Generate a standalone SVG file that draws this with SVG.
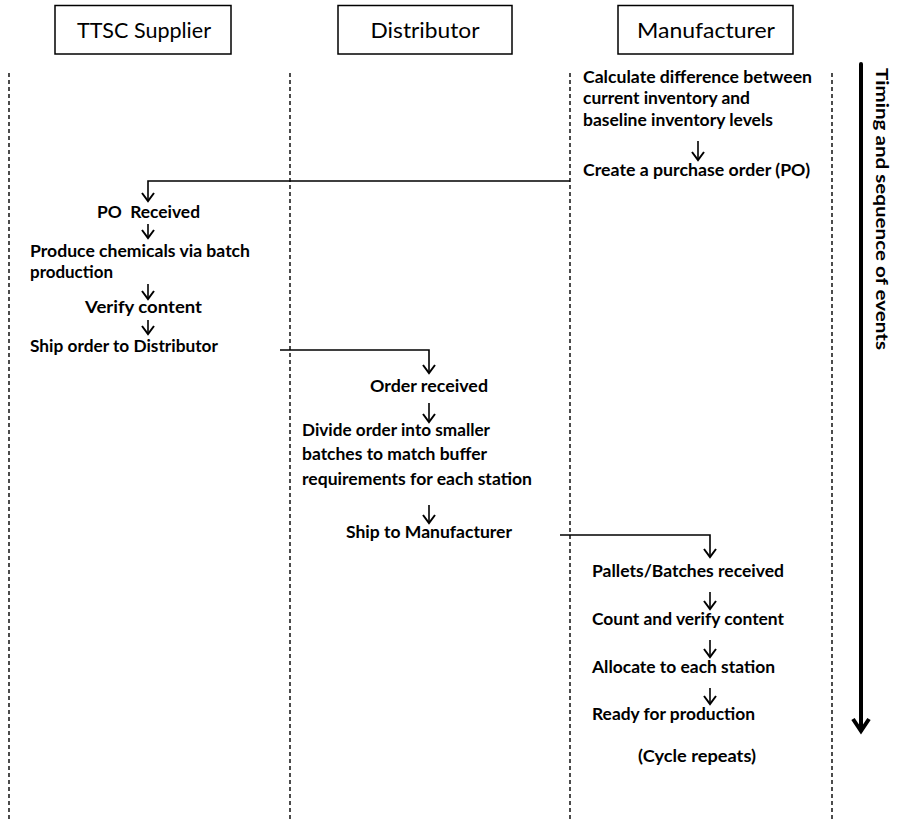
<svg xmlns="http://www.w3.org/2000/svg" width="899" height="820" viewBox="0 0 899 820">
  <style>
    .hdr { fill: #fff; stroke: #000; stroke-width: 1.5; }
    .hdrtxt { font-family: Lato, "Open Sans", "Liberation Sans", sans-serif; font-size: 22px; fill: #000; text-anchor: middle; }
    .txt { font-family: Lato, "Open Sans", "Liberation Sans", sans-serif; font-size: 17px; font-weight: bold; fill: #000; }
    .lane { stroke: #000; stroke-width: 1.4; stroke-dasharray: 4 3; fill: none; }
    .conn { stroke: #000; stroke-width: 1.6; fill: none; marker-end: url(#vhead); }
  </style>
  <defs>
    <marker id="vhead" viewBox="-9 -7 11 14" markerWidth="11" markerHeight="14" markerUnits="userSpaceOnUse" refX="0" refY="0" orient="auto">
      <path d="M-8,-6 L0,0 L-8,6" fill="none" stroke="#000" stroke-width="2"/>
    </marker>
  </defs>

  <rect width="899" height="820" fill="#fff"/>

  <!-- swimlane boundaries -->
  <g id="lanes">
    <line class="lane" x1="9" y1="73" x2="9" y2="820"/>
    <line class="lane" x1="290" y1="73" x2="290" y2="820"/>
    <line class="lane" x1="570" y1="73" x2="570" y2="820"/>
    <line class="lane" x1="832" y1="73" x2="832" y2="820"/>
  </g>

  <!-- lane headers -->
  <g id="hdr-supplier">
    <rect class="hdr" x="55" y="5.5" width="176" height="48.5"/>
    <text class="hdrtxt" x="144" y="38" textLength="134" lengthAdjust="spacingAndGlyphs">TTSC Supplier</text>
  </g>
  <g id="hdr-distributor">
    <rect class="hdr" x="338" y="5.5" width="174" height="48.5"/>
    <text class="hdrtxt" x="425" y="38" textLength="109" lengthAdjust="spacingAndGlyphs">Distributor</text>
  </g>
  <g id="hdr-manufacturer">
    <rect class="hdr" x="618" y="5.5" width="175" height="48.5"/>
    <text class="hdrtxt" x="706" y="38" textLength="138" lengthAdjust="spacingAndGlyphs">Manufacturer</text>
  </g>

  <!-- Manufacturer: ordering -->
  <g id="m-calc">
    <text class="txt" x="583" y="83" textLength="229" lengthAdjust="spacingAndGlyphs">Calculate difference between</text>
    <text class="txt" x="583" y="104" textLength="167" lengthAdjust="spacingAndGlyphs">current inventory and</text>
    <text class="txt" x="583" y="126" textLength="190" lengthAdjust="spacingAndGlyphs">baseline inventory levels</text>
  </g>
  <g id="m-po">
    <text class="txt" x="583" y="176" textLength="227" lengthAdjust="spacingAndGlyphs">Create a purchase order (PO)</text>
  </g>

  <!-- Supplier steps -->
  <g id="s-received">
    <text class="txt" x="97" y="218" textLength="103" lengthAdjust="spacingAndGlyphs">PO&#160; Received</text>
  </g>
  <g id="s-produce">
    <text class="txt" x="30" y="257" textLength="220" lengthAdjust="spacingAndGlyphs">Produce chemicals via batch</text>
    <text class="txt" x="30" y="278" textLength="83" lengthAdjust="spacingAndGlyphs">production</text>
  </g>
  <g id="s-verify">
    <text class="txt" x="85" y="313" textLength="117" lengthAdjust="spacingAndGlyphs">Verify content</text>
  </g>
  <g id="s-ship">
    <text class="txt" x="30" y="352" textLength="188" lengthAdjust="spacingAndGlyphs">Ship order to Distributor</text>
  </g>

  <!-- Distributor steps -->
  <g id="d-received">
    <text class="txt" x="370" y="392" textLength="118" lengthAdjust="spacingAndGlyphs">Order received</text>
  </g>
  <g id="d-divide">
    <text class="txt" x="302" y="436" textLength="188" lengthAdjust="spacingAndGlyphs">Divide order into smaller</text>
    <text class="txt" x="302" y="460" textLength="185" lengthAdjust="spacingAndGlyphs">batches to match buffer</text>
    <text class="txt" x="302" y="485" textLength="230" lengthAdjust="spacingAndGlyphs">requirements for each station</text>
  </g>
  <g id="d-ship">
    <text class="txt" x="346" y="538" textLength="166" lengthAdjust="spacingAndGlyphs">Ship to Manufacturer</text>
  </g>

  <!-- Manufacturer: receiving -->
  <g id="m-received">
    <text class="txt" x="592" y="577" textLength="192" lengthAdjust="spacingAndGlyphs">Pallets/Batches received</text>
  </g>
  <g id="m-count">
    <text class="txt" x="592" y="625" textLength="192" lengthAdjust="spacingAndGlyphs">Count and verify content</text>
  </g>
  <g id="m-allocate">
    <text class="txt" x="592" y="673" textLength="183" lengthAdjust="spacingAndGlyphs">Allocate to each station</text>
  </g>
  <g id="m-ready">
    <text class="txt" x="592" y="720" textLength="163" lengthAdjust="spacingAndGlyphs">Ready for production</text>
  </g>
  <g id="m-cycle">
    <text class="txt" x="638" y="762" textLength="118" lengthAdjust="spacingAndGlyphs">(Cycle repeats)</text>
  </g>

  <!-- connectors -->
  <g id="connectors">
    <path class="conn" d="M698,141 V160"/>
    <path class="conn" d="M570,181 H148 V201"/>
    <path class="conn" d="M148,224 V238"/>
    <path class="conn" d="M148,284 V299"/>
    <path class="conn" d="M148,320 V334"/>
    <path class="conn" d="M280,350 H429 V373"/>
    <path class="conn" d="M429,403 V422"/>
    <path class="conn" d="M429,505 V523"/>
    <path class="conn" d="M560,535 H710 V557"/>
    <path class="conn" d="M710,592 V609"/>
    <path class="conn" d="M710,640 V657"/>
    <path class="conn" d="M710,688 V704"/>
  </g>

  <!-- time axis -->
  <g id="timeline">
    <line x1="861" y1="64" x2="861" y2="730" stroke="#000" stroke-width="4" stroke-linecap="round"/>
    <polyline points="853,719 861,731 869,719" fill="none" stroke="#000" stroke-width="4" stroke-linejoin="miter"/>
    <text class="txt" transform="translate(876,68) rotate(90)" x="0" y="0" font-size="19" textLength="282" lengthAdjust="spacingAndGlyphs">Timing and sequence of events</text>
  </g>
</svg>
